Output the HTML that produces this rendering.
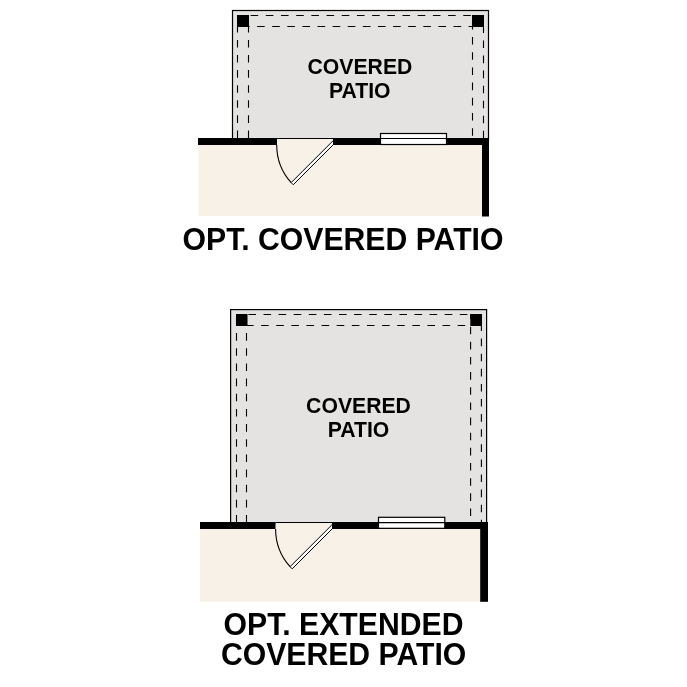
<!DOCTYPE html>
<html>
<head>
<meta charset="utf-8">
<style>
html,body{margin:0;padding:0;background:#fff;}
body{width:687px;height:687px;overflow:hidden;}
svg{display:block;will-change:transform;}
text{font-family:"Liberation Sans", sans-serif;font-weight:bold;fill:#000;}
</style>
</head>
<body>
<svg width="687" height="687" viewBox="0 0 687 687">
<rect x="0" y="0" width="687" height="687" fill="#ffffff"/>

<!-- ===== TOP PLAN ===== -->
<g>
  <rect x="232.5" y="10.5" width="256" height="130" fill="#e4e3e2" stroke="#000" stroke-width="1.2"/>
  <g stroke="#000" stroke-width="1.1" fill="none">
    <line x1="237.5" y1="15" x2="237.5" y2="138" stroke-dasharray="7.6 7.480" stroke-dashoffset="5.260"/>
    <line x1="248.5" y1="15" x2="248.5" y2="138" stroke-dasharray="7.6 7.480" stroke-dashoffset="5.260"/>
    <line x1="472.5" y1="15" x2="472.5" y2="138" stroke-dasharray="7.6 7.600" stroke-dashoffset="8.400"/>
    <line x1="483.5" y1="15" x2="483.5" y2="138" stroke-dasharray="7.6 7.450" stroke-dashoffset="4.600"/>
    <line x1="237" y1="15.5" x2="484" y2="15.5" stroke-dasharray="7.6 7.590" stroke-dashoffset="1.590"/>
    <line x1="237" y1="26.5" x2="484" y2="26.5" stroke-dasharray="7.6 7.510" stroke-dashoffset="10.120"/>
  </g>
  <rect x="237" y="15" width="12" height="12" fill="#000"/>
  <rect x="472" y="15" width="12" height="12" fill="#000"/>

  <rect x="198.5" y="144.5" width="284" height="71.5" fill="#f7f1e8"/>
  <rect x="198" y="138" width="79" height="7" fill="#000"/>
  <rect x="333" y="138" width="156" height="7" fill="#000"/>
  <rect x="482" y="138" width="7" height="78.5" fill="#000"/>
  <rect x="277" y="138.6" width="56" height="6.4" fill="#f7f1e8"/>
  <line x1="277" y1="138.5" x2="333" y2="138.5" stroke="#000" stroke-width="1"/>
  <path d="M276.70,145 A56.3,56.3 0 0 0 291.13,182.63" fill="none" stroke="#000" stroke-width="1.1"/>
  <polygon points="291.13,182.63 293.25,184.75 334.77,143.23 332.65,141.11" fill="#fff" stroke="#000" stroke-width="1.0" stroke-linejoin="miter"/>
  <rect x="333" y="138" width="156" height="7" fill="#000"/>
  <rect x="380.5" y="133.5" width="66" height="11" fill="#fff" stroke="#000" stroke-width="1.2"/>
  <line x1="380.5" y1="138.5" x2="446.5" y2="138.5" stroke="#000" stroke-width="1.1"/>

  <text transform="translate(359.95,73.85) scale(1,1.035)" font-size="21.2" text-anchor="middle">COVERED</text>
  <text transform="translate(359.7,98.1) scale(1,1.035)" font-size="21.2" text-anchor="middle">PATIO</text>
  <text transform="translate(343.0,249.8) scale(1,1.047)" font-size="30.2" text-anchor="middle">OPT. COVERED PATIO</text>
</g>

<!-- ===== BOTTOM PLAN ===== -->
<g>
  <rect x="230.6" y="309.6" width="256" height="214" fill="#e4e3e2" stroke="#000" stroke-width="1.2"/>
  <g stroke="#000" stroke-width="1.1" fill="none">
    <line x1="236.5" y1="314" x2="236.5" y2="522" stroke-dasharray="7.6 7.560" stroke-dashoffset="11.220"/>
    <line x1="246.5" y1="314" x2="246.5" y2="522" stroke-dasharray="7.6 7.560" stroke-dashoffset="11.220"/>
    <line x1="470.6" y1="314" x2="470.6" y2="522" stroke-dasharray="7.6 7.550" stroke-dashoffset="2.500"/>
    <line x1="481.4" y1="314" x2="481.4" y2="522" stroke-dasharray="7.6 7.500" stroke-dashoffset="5.600"/>
    <line x1="236" y1="314.5" x2="482" y2="314.5" stroke-dasharray="7.6 7.500" stroke-dashoffset="2.700"/>
    <line x1="236" y1="325.5" x2="482" y2="325.5" stroke-dasharray="7.6 7.520" stroke-dashoffset="5.140"/>
  </g>
  <rect x="236" y="314" width="11.5" height="12" fill="#000"/>
  <rect x="470.3" y="314" width="11.7" height="12" fill="#000"/>

  <rect x="200" y="528.5" width="280.5" height="73.2" fill="#f7f1e8"/>
  <rect x="200" y="522" width="75.7" height="7" fill="#000"/>
  <rect x="332" y="522" width="156" height="7" fill="#000"/>
  <rect x="480.2" y="522" width="7.8" height="79.8" fill="#000"/>
  <rect x="275.7" y="522.6" width="56.3" height="6.4" fill="#f7f1e8"/>
  <line x1="275.7" y1="522.5" x2="332" y2="522.5" stroke="#000" stroke-width="1"/>
  <path d="M275.60,529 A56.4,56.4 0 0 0 290.05,566.70" fill="none" stroke="#000" stroke-width="1.1"/>
  <polygon points="290.05,566.70 292.18,568.82 333.77,527.23 331.65,525.11" fill="#fff" stroke="#000" stroke-width="1.0" stroke-linejoin="miter"/>
  <rect x="332" y="522" width="156" height="7" fill="#000"/>
  <rect x="378.5" y="517.3" width="66.3" height="11" fill="#fff" stroke="#000" stroke-width="1.2"/>
  <line x1="378.5" y1="522.6" x2="444.8" y2="522.6" stroke="#000" stroke-width="1.1"/>

  <text transform="translate(358.5,412.6) scale(1,1.035)" font-size="21.2" text-anchor="middle">COVERED</text>
  <text transform="translate(358.5,436.8) scale(1,1.035)" font-size="21.2" text-anchor="middle">PATIO</text>
  <text transform="translate(343.5,635.1) scale(1,1.047)" font-size="30.2" text-anchor="middle">OPT. EXTENDED</text>
  <text transform="translate(343.6,665.1) scale(1,1.047)" font-size="30.2" text-anchor="middle">COVERED PATIO</text>
</g>
</svg>
</body>
</html>
